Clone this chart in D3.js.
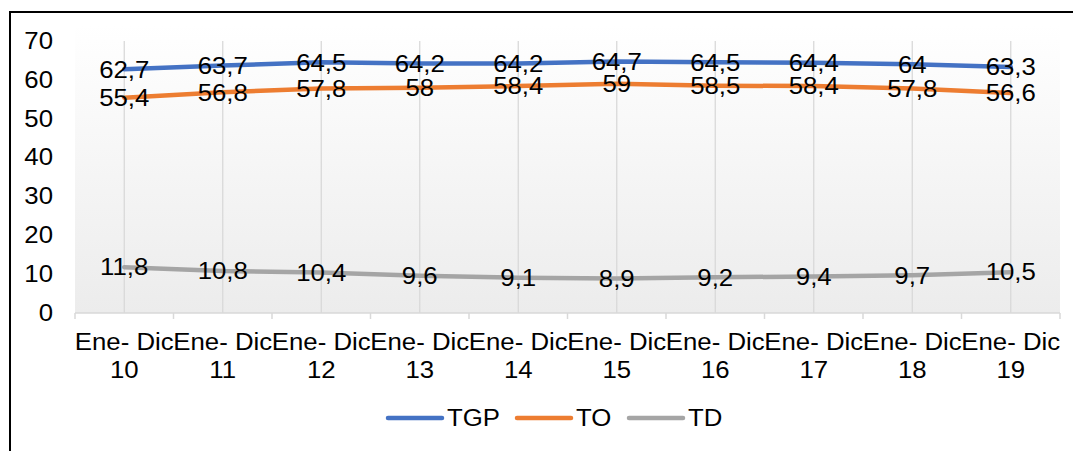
<!DOCTYPE html>
<html>
<head>
<meta charset="utf-8">
<script src="https://cdn.jsdelivr.net/npm/d3@7/dist/d3.min.js"></script>
<style>
  html, body { margin: 0; padding: 0; background: #fff; }
  svg { display: block; }
  text { font-family: "Liberation Sans", Arial, sans-serif; fill: #000; }
</style>
</head>
<body>
<div id="chart"></div>
<script>
// Periods (two-line labels) and the three rates per year
const periodTop = ["Ene- Dic", "Ene- Dic", "Ene- Dic", "Ene- Dic", "Ene- Dic",
                   "Ene- Dic", "Ene- Dic", "Ene- Dic", "Ene- Dic", "Ene- Dic"];
const periodYear = ["10", "11", "12", "13", "14", "15", "16", "17", "18", "19"];
const tgp = [62.7, 63.7, 64.5, 64.2, 64.2, 64.7, 64.5, 64.4, 64, 63.3];
const to  = [55.4, 56.8, 57.8, 58, 58.4, 59, 58.5, 58.4, 57.8, 56.6];
const td  = [11.8, 10.8, 10.4, 9.6, 9.1, 8.9, 9.2, 9.4, 9.7, 10.5];
const yTicks = [0, 10, 20, 30, 40, 50, 60, 70];
const seriesNames = ["TGP", "TO", "TD"];

const W = 1073, H = 451;
const plot = { left: 75, right: 1060, top: 41, bottom: 313 };
const fontSize = 23;
const widen = 1.12; // the typeface is set slightly wide

const svg = d3.select("#chart").append("svg")
  .attr("width", W).attr("height", H);

// stretch a text (or tspan) horizontally around its anchor
function stretch(sel) {
  sel.each(function () {
    const w = this.getComputedTextLength();
    if (w > 0) {
      d3.select(this)
        .attr("textLength", w * widen)
        .attr("lengthAdjust", "spacingAndGlyphs");
    }
  });
}

// background gradient of the plot area
const defs = svg.append("defs");
const grad = defs.append("linearGradient").attr("id", "plotBg")
  .attr("x1", 0).attr("y1", 0).attr("x2", 0).attr("y2", 1);
grad.append("stop").attr("offset", "0%").attr("stop-color", "#ffffff");
grad.append("stop").attr("offset", "100%").attr("stop-color", "#ececec");

// chart frame
svg.append("path")
  .attr("d", `M10,${H + 2} L10,12 L${W + 2},12`)
  .attr("fill", "none").attr("stroke", "#000").attr("stroke-width", 2);

const x = d3.scaleBand()
  .domain(d3.range(periodYear.length))
  .range([plot.left, plot.right])
  .paddingInner(0).paddingOuter(0);

const y = d3.scaleLinear().domain([0, 70]).range([plot.bottom, plot.top]);

svg.append("rect")
  .attr("x", plot.left).attr("y", 25)
  .attr("width", plot.right - plot.left).attr("height", plot.bottom - 25)
  .attr("fill", "url(#plotBg)");

const cx = i => x(i) + x.bandwidth() / 2;

// vertical gridlines at category centres
svg.append("g").selectAll("line")
  .data(d3.range(periodYear.length))
  .join("line")
  .attr("x1", cx).attr("x2", cx)
  .attr("y1", y(70)).attr("y2", y(0))
  .attr("stroke", "#d9d9d9").attr("stroke-width", 1.3);

// category axis with ticks at band boundaries
const xAxisG = svg.append("g");
xAxisG.append("line")
  .attr("x1", plot.left).attr("x2", plot.right)
  .attr("y1", y(0)).attr("y2", y(0))
  .attr("stroke", "#d9d9d9").attr("stroke-width", 1.5);
const boundaries = d3.range(periodYear.length + 1)
  .map(i => i < periodYear.length ? x(i) : plot.right);
xAxisG.selectAll("line.tick")
  .data(boundaries)
  .join("line").attr("class", "tick")
  .attr("x1", d => d).attr("x2", d => d)
  .attr("y1", y(0)).attr("y2", y(0) + 6)
  .attr("stroke", "#d9d9d9").attr("stroke-width", 1.5);

const xl = xAxisG.selectAll("text.cat")
  .data(d3.range(periodYear.length))
  .join("text").attr("class", "cat")
  .attr("text-anchor", "middle")
  .attr("font-size", fontSize);
xl.append("tspan").attr("x", cx).attr("y", 350).text(i => periodTop[i]);
xl.append("tspan").attr("x", cx).attr("y", 378).text(i => periodYear[i]);
stretch(xl.selectAll("tspan"));

// value axis labels
const yAxis = d3.axisLeft(y).tickValues(yTicks).tickSize(0).tickPadding(0);
const yg = svg.append("g").attr("transform", "translate(53,0)").call(yAxis);
yg.select(".domain").remove();
yg.selectAll("text")
  .attr("font-size", fontSize)
  .attr("font-family", '"Liberation Sans", Arial, sans-serif')
  .attr("fill", "#000");
stretch(yg.selectAll("text"));

// series lines
const series = [
  { name: seriesNames[0], values: tgp, color: "#4472C4" },
  { name: seriesNames[1], values: to,  color: "#ED7D31" },
  { name: seriesNames[2], values: td,  color: "#A5A5A5" }
];

const line = d3.line().x((d, i) => cx(i)).y(d => y(d));

svg.append("g").selectAll("path")
  .data(series)
  .join("path")
  .attr("d", s => line(s.values))
  .attr("fill", "none")
  .attr("stroke", s => s.color)
  .attr("stroke-width", 4.5)
  .attr("stroke-linejoin", "round")
  .attr("stroke-linecap", "round");

// value labels centred on each point
const fmt = v => String(v).replace(".", ",");
series.forEach(s => {
  const t = svg.append("g").selectAll("text")
    .data(s.values)
    .join("text")
    .attr("x", (d, i) => cx(i))
    .attr("y", d => y(d))
    .attr("dy", "0.36em")
    .attr("text-anchor", "middle")
    .attr("font-size", fontSize)
    .text(fmt);
  stretch(t);
});

// legend
const legendX = [388, 517, 629];
const lg = svg.append("g").selectAll("g")
  .data(series)
  .join("g")
  .attr("transform", (s, i) => `translate(${legendX[i]},418)`);
lg.append("line")
  .attr("x1", 0).attr("x2", 54).attr("y1", 0).attr("y2", 0)
  .attr("stroke", s => s.color).attr("stroke-width", 4.5)
  .attr("stroke-linecap", "round");
const lt = lg.append("text")
  .attr("x", 59).attr("y", 0).attr("dy", "0.36em")
  .attr("font-size", fontSize)
  .text(s => s.name);
stretch(lt);
</script>
</body>
</html>
